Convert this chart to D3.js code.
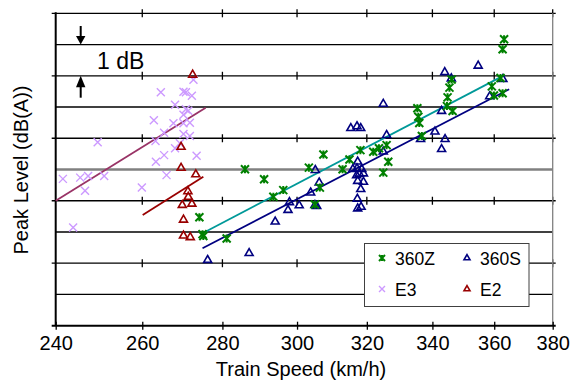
<!DOCTYPE html>
<html><head><meta charset="utf-8">
<script src="https://cdn.jsdelivr.net/npm/d3@7"></script>
<style>
html,body{margin:0;padding:0;background:#fff;}
svg{display:block;font-family:"Liberation Sans",Arial,sans-serif;}
</style></head><body>
<svg id="chart" width="573" height="381"></svg>
<script>
// ---- data ----
const xTicks = [240,260,280,300,320,340,360,380];
const gridLevels = [0,1,2,3,4,5,6,7,8,9,10];
const majorLevels = [0,2,4,6,8,10];
const seriesNames = ["360Z","360S","E3","E2"];

const z360Speed = [274.1,274.9,275.1,281.1,285.9,291.0,293.5,296.2,303.3,305.0,306.4,307.4,312.9,314.9,318.1,321.9,323.6,325.9,326.4,324.9,335.3,335.6,335.9,336.7,344.6,344.8,345.4,346.1,346.4,359.2,359.9,362.8,362.1,363.3,362.8];
const z360Level = [3.47,2.93,2.87,2.79,5.01,4.69,4.13,4.34,5.06,3.88,4.42,5.48,5.01,5.32,5.62,5.57,5.68,5.78,5.25,4.90,6.96,6.69,6.49,6.07,7.03,7.31,7.62,7.88,6.87,7.66,7.37,7.44,7.93,9.17,8.85];

const s360Speed = [276.2,287.0,294.0,297.5,297.9,300.6,303.8,305.1,306.2,305.0,305.5,315.3,317.1,318.2,317.3,315.9,317.1,318.5,319.0,317.0,317.8,317.3,319.0,318.2,317.2,317.3,318.3,324.9,325.9,324.9,336.3,340.8,342.9,344.0,342.9,343.9,346.0,354.7,358.5,362.9];
const s360Level = [2.10,2.32,3.33,3.70,3.95,3.85,4.26,4.98,4.58,3.86,3.83,6.32,6.38,6.32,5.25,5.01,5.03,5.01,4.87,4.81,4.86,4.63,4.60,4.37,4.06,3.75,3.80,7.10,6.10,5.57,5.97,6.21,6.87,5.97,5.65,8.11,7.91,8.32,7.34,7.89];

const e3Speed = [272.6,264.5,270.1,270.7,272.2,268.0,270.7,271.3,270.1,262.8,267.6,270.1,271.7,265.3,270.1,271.7,249.5,263.2,269.2,268.0,273.4,265.3,263.3,265.9,241.6,245.5,247.3,251.0,246.6,259.9,243.9];
const e3Level = [7.87,7.47,7.49,7.47,7.36,7.07,6.93,6.88,6.75,6.58,6.48,6.48,6.50,6.18,6.14,6.07,5.87,5.91,5.84,5.68,5.44,5.46,5.25,4.82,4.70,4.74,4.79,4.79,4.32,4.42,3.14];

const e2Speed = [272.4,269.5,269.5,273.2,271.2,271.3,269.8,272.2,270.1,270.1,271.8];
const e2Level = [8.03,5.72,5.05,4.84,4.30,4.12,3.86,3.90,3.39,2.88,2.83];

// regression lines: [start, end]
const z360FitSpeed = [274.9, 363.4], z360FitLevel = [2.96, 8.02];
const s360FitSpeed = [274.9, 365.0], s360FitLevel = [2.48, 7.57];
const e3FitSpeed = [240.0, 275.7],   e3FitLevel = [4.00, 6.98];
const e2FitSpeed = [260.1, 275.1],   e2FitLevel = [3.54, 4.77];

// ---- chart ----
const svg = d3.select("#chart");
const x = d3.scaleLog().domain([240,380]).range([55.7,552.7]);
const y = d3.scaleLinear().domain([0,10]).range([325.7,13.3]);
const X0 = x(240), X1 = x(380);

const colors = {"360Z":"#008000","360S":"#000080","E3":"#cc99ff","E2":"#990000"};
const fitColors = {"360Z":"#009999","360S":"#000080","E3":"#993366","E2":"#990000"};

// gridlines
const g = svg.append("g");
gridLevels.filter(v => v !== 0).forEach(v => {
  const major = majorLevels.includes(v);
  const gray = v === 5;
  g.append("line")
    .attr("x1", major ? X0-4 : X0).attr("x2", major ? X1+3 : X1)
    .attr("y1", y(v)).attr("y2", y(v))
    .attr("stroke", gray ? "#808080" : "#000")
    .attr("stroke-width", gray ? 2.5 : 1.3);
  if (major) {
    xTicks.slice(1).forEach(t => {
      g.append("line").attr("x1", x(t)).attr("x2", x(t))
        .attr("y1", y(v)-4).attr("y2", y(v)+4)
        .attr("stroke","#000").attr("stroke-width",1.3);
    });
  }
});
// right border
g.append("line").attr("x1",X1).attr("x2",X1).attr("y1",y(10)).attr("y2",y(0))
  .attr("stroke","#808080").attr("stroke-width",1.3);
// left axis
g.append("line").attr("x1",X0).attr("x2",X0).attr("y1",y(10)-1).attr("y2",y(0))
  .attr("stroke","#000").attr("stroke-width",2);

// bottom axis
const xAxis = d3.axisBottom(x).tickValues(xTicks).tickFormat(d3.format("d")).tickSizeOuter(0).tickSizeInner(4);
const ax = svg.append("g").attr("transform",`translate(0,${y(0)})`).call(xAxis);
ax.select(".domain").attr("d", `M${X0-4},0H${X1+3}`).attr("stroke","#000").attr("stroke-width",2);
ax.selectAll(".tick line").attr("y1",-4).attr("y2",4).attr("stroke","#000").attr("stroke-width",1.3);
ax.selectAll(".tick text").attr("y",null).attr("dy",null).attr("transform","translate(0,24.3)")
  .attr("font-size",20).attr("font-family","'Liberation Sans',Arial,sans-serif").attr("fill","#000");

// axis titles
svg.append("text").attr("x",301).attr("y",376).attr("text-anchor","middle")
  .attr("font-size",20).text("Train Speed (km/h)");
svg.append("text").attr("transform","translate(28,170) rotate(-90)").attr("text-anchor","middle")
  .attr("font-size",20).text("Peak Level (dB(A))");

// 1 dB annotation
const ann = svg.append("g");
const ax0 = 80.7;
ann.append("line").attr("x1",ax0).attr("x2",ax0).attr("y1",26).attr("y2",38).attr("stroke","#000").attr("stroke-width",2);
ann.append("path").attr("d",`M${ax0-4.7},36 L${ax0+4.7},36 L${ax0},${y(9)} Z`).attr("fill","#000");
ann.append("line").attr("x1",ax0).attr("x2",ax0).attr("y1",85).attr("y2",97.7).attr("stroke","#000").attr("stroke-width",2);
ann.append("path").attr("d",`M${ax0-4.7},87.3 L${ax0+4.7},87.3 L${ax0},${y(8)} Z`).attr("fill","#000");
ann.append("text").attr("x",97).attr("y",69).attr("font-size",23).text("1 dB");

// fit lines
const line = d3.line().x(d => x(d[0])).y(d => y(d[1]));
const fits = [
  ["E3", e3FitSpeed, e3FitLevel],
  ["E2", e2FitSpeed, e2FitLevel],
  ["360Z", z360FitSpeed, z360FitLevel],
  ["360S", s360FitSpeed, s360FitLevel]
];
fits.forEach(([n, sp, lv]) => {
  svg.append("path").attr("d", line(sp.map((s,i)=>[s, lv[i]])))
    .attr("fill","none").attr("stroke",fitColors[n]).attr("stroke-width",1.8);
});

// marker paths
function markerPath(name, h) {
  if (name === "360Z") return `M${-h},${-h}L${h},${h}M${-h},${h}L${h},${-h}M0,${-h}L0,${h}`;
  if (name === "E3") return `M${-h},${-h}L${h},${h}M${-h},${h}L${h},${-h}`;
  // triangle centered on centroid
  const s = h*2;
  const ht = s*Math.sqrt(3)/2;
  return `M0,${-ht*2/3}L${s/2},${ht/3}L${-s/2},${ht/3}Z`;
}
const markerStyle = {
  "360Z": {sw:2, h:4},
  "360S": {sw:1.6, h:4},
  "E3": {sw:1.4, h:4},
  "E2": {sw:1.6, h:4}
};
const series = [
  ["E3", e3Speed, e3Level],
  ["E2", e2Speed, e2Level],
  ["360S", s360Speed, s360Level],
  ["360Z", z360Speed, z360Level]
];
series.forEach(([n, sp, lv]) => {
  const st = markerStyle[n];
  svg.append("g").selectAll("path").data(sp.map((s,i)=>[s, lv[i]])).join("path")
    .attr("transform", d => `translate(${x(d[0])},${y(d[1])})`)
    .attr("d", markerPath(n, st.h))
    .attr("fill","none").attr("stroke",colors[n]).attr("stroke-width",st.sw);
});

// legend
const lg = svg.append("g");
lg.append("rect").attr("x",364.5).attr("y",243.5).attr("width",164.5).attr("height",63)
  .attr("fill","#fff").attr("stroke","#404040").attr("stroke-width",1);
const legPos = {"360Z":[382,258],"360S":[467,258],"E3":[382,289],"E2":[467,289]};
seriesNames.forEach(n => {
  const [lx, ly] = legPos[n];
  lg.append("path").attr("transform",`translate(${lx},${ly})`).attr("d",markerPath(n,3))
    .attr("fill","none").attr("stroke",colors[n]).attr("stroke-width",markerStyle[n].sw);
  lg.append("text").attr("x",lx+13).attr("y",ly+6.5).attr("font-size",17.5).text(n);
});
</script>
</body></html>
